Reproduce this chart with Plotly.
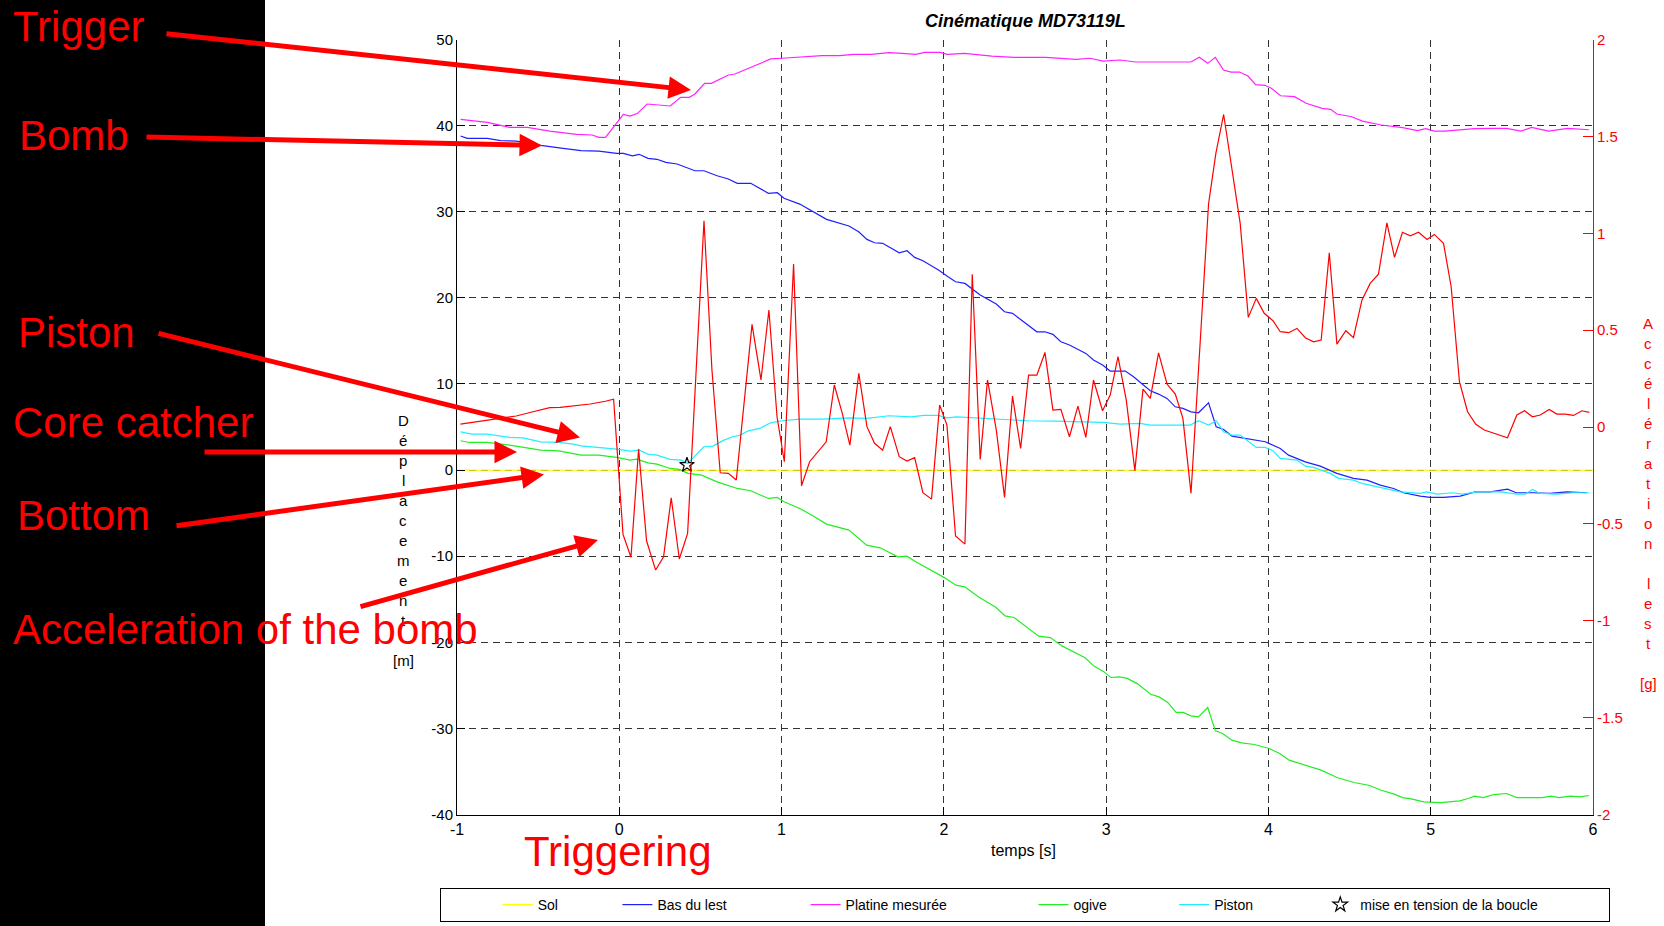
import plotly.graph_objects as go

W, H = 1664, 926
FONT = "Liberation Sans, Arial, Helvetica, sans-serif"

# ---------------- data ----------------
sol_t = [-1.0, 6.0]
sol_y = [0.0, 0.0]

lest_t = [-0.978, -0.937, -0.813, -0.731, -0.635, -0.484, -0.346, -0.236, -0.126, -0.016,
          0.025, 0.081, 0.122, 0.177, 0.232, 0.287, 0.356, 0.466, 0.521, 0.603,
          0.672, 0.727, 0.810, 0.919, 0.974, 1.015, 1.112, 1.195, 1.277, 1.415,
          1.475, 1.526, 1.573, 1.623, 1.725, 1.773, 1.820, 1.871, 1.967, 2.019,
          2.072, 2.130, 2.224, 2.323, 2.374, 2.423, 2.522, 2.573, 2.623, 2.672,
          2.721, 2.774, 2.875, 2.922, 2.978, 3.025, 3.118, 3.169, 3.272, 3.323,
          3.375, 3.426, 3.473, 3.523, 3.569, 3.631, 3.678, 3.724, 3.775, 3.888,
          3.980, 4.073, 4.124, 4.227, 4.319, 4.422, 4.524, 4.607, 4.689, 4.771,
          4.833, 4.935, 4.997, 5.079, 5.182, 5.274, 5.367, 5.473, 5.527, 5.634,
          5.736, 5.839, 5.962]
lest_y = [38.79, 38.52, 38.52, 38.25, 38.21, 37.71, 37.36, 37.09, 37.05, 36.78,
          36.78, 36.50, 36.67, 36.20, 36.09, 35.74, 35.54, 34.76, 34.76, 34.18,
          33.80, 33.30, 33.30, 32.14, 32.21, 31.56, 30.89, 30.00, 29.12, 28.34,
          27.68, 26.79, 26.40, 26.33, 25.24, 25.47, 24.70, 24.31, 23.23, 22.53,
          21.87, 21.68, 20.33, 19.28, 18.39, 18.20, 16.84, 16.06, 16.06, 15.76,
          14.90, 14.52, 13.55, 12.78, 12.20, 11.50, 11.50, 10.84, 9.21, 8.83,
          8.33, 7.35, 7.17, 6.77, 6.66, 7.82, 5.03, 4.72, 3.95, 3.56,
          3.29, 2.52, 1.74, 0.96, 0.46, -0.38, -0.96, -1.16, -1.74, -2.13,
          -2.63, -3.02, -3.17, -3.17, -3.02, -2.52, -2.52, -2.21, -2.63, -2.63,
          -2.71, -2.52, -2.63]

platine_t = [-0.978, -0.813, -0.676, -0.566, -0.428, -0.263, -0.167, -0.126, -0.085, 0.025,
             0.067, 0.113, 0.171, 0.259, 0.314, 0.378, 0.432, 0.466, 0.526, 0.568,
             0.672, 0.713, 0.810, 0.865, 0.933, 1.002, 1.139, 1.250, 1.359, 1.442,
             1.552, 1.662, 1.744, 1.827, 1.882, 1.978, 2.020, 2.129, 2.295, 2.432,
             2.625, 2.817, 2.900, 2.982, 3.087, 3.182, 3.522, 3.574, 3.626, 3.673,
             3.723, 3.770, 3.822, 3.874, 3.921, 3.978, 4.018, 4.075, 4.161, 4.232,
             4.331, 4.383, 4.422, 4.513, 4.579, 4.696, 4.827, 4.918, 4.970, 5.022,
             5.088, 5.179, 5.270, 5.388, 5.466, 5.558, 5.622, 5.727, 5.844, 5.975]
platine_y = [40.73, 40.38, 39.80, 39.80, 39.37, 38.99, 38.91, 38.64, 38.64, 41.31,
             41.11, 41.43, 42.51, 42.39, 42.28, 43.28, 43.28, 43.67, 44.91, 44.91,
             45.88, 45.99, 46.77, 47.15, 47.74, 47.82, 48.00, 48.12, 48.12, 48.28,
             48.28, 48.47, 48.40, 48.28, 48.51, 48.51, 48.28, 48.40, 48.08, 47.93,
             47.93, 47.70, 47.82, 47.50, 47.62, 47.39, 47.39, 47.93, 47.23, 47.93,
             46.46, 46.22, 46.22, 45.76, 44.75, 44.68, 44.33, 43.47, 43.36, 42.59,
             42.01, 41.89, 41.35, 41.03, 40.53, 40.07, 39.76, 39.41, 39.64, 39.37,
             39.37, 39.52, 39.64, 39.69, 39.69, 39.37, 39.80, 39.37, 39.69, 39.52]

ogive_t = [-0.978, -0.924, -0.813, -0.676, -0.484, -0.373, -0.236, -0.126, -0.016, 0.067,
           0.108, 0.177, 0.232, 0.314, 0.369, 0.424, 0.507, 0.603, 0.727, 0.810,
           0.919, 0.974, 1.015, 1.112, 1.195, 1.277, 1.415, 1.524, 1.607, 1.717,
           1.772, 1.827, 2.006, 2.074, 2.129, 2.212, 2.322, 2.377, 2.433, 2.584,
           2.656, 2.730, 2.870, 2.925, 2.985, 3.030, 3.080, 3.131, 3.196, 3.274,
           3.326, 3.378, 3.431, 3.475, 3.522, 3.569, 3.626, 3.673, 3.718, 3.775,
           3.835, 3.913, 4.004, 4.070, 4.128, 4.226, 4.279, 4.325, 4.422, 4.527,
           4.618, 4.696, 4.775, 4.827, 4.879, 4.957, 5.061, 5.179, 5.231, 5.270,
           5.323, 5.388, 5.466, 5.531, 5.688, 5.740, 5.792, 5.858, 5.923, 5.975]
ogive_y = [3.41, 3.21, 3.21, 2.90, 2.32, 2.24, 1.74, 1.74, 1.47, 1.16,
           1.28, 0.85, 0.70, 0.19, 0.08, -0.38, -0.58, -1.36, -2.13, -2.40,
           -3.29, -3.17, -3.68, -4.45, -5.34, -6.27, -6.97, -8.71, -9.02, -10.07,
           -9.99, -10.65, -12.51, -13.36, -13.55, -14.71, -15.95, -16.92, -17.11, -19.28,
           -19.45, -20.44, -21.78, -22.76, -23.40, -24.08, -24.01, -24.19, -24.85, -26.02,
           -26.33, -26.95, -28.14, -28.14, -28.54, -28.65, -27.56, -30.28, -30.58, -31.36,
           -31.67, -31.86, -32.32, -32.90, -33.68, -34.26, -34.65, -34.84, -35.69, -36.27,
           -36.59, -37.17, -37.63, -38.02, -38.18, -38.52, -38.60, -38.41, -38.13, -37.86,
           -38.02, -37.67, -37.55, -38.02, -38.02, -37.86, -38.02, -37.86, -37.94, -37.78]

piston_t = [-0.978, -0.910, -0.813, -0.676, -0.593, -0.484, -0.373, -0.282, -0.236, -0.158,
            -0.016, 0.067, 0.122, 0.177, 0.232, 0.314, 0.383, 0.419, 0.452, 0.521,
            0.576, 0.645, 0.699, 0.741, 0.796, 0.865, 0.933, 1.002, 1.112, 1.250,
            1.415, 1.524, 1.662, 1.800, 1.875, 1.967, 2.019, 2.081, 2.240, 2.377,
            2.515, 2.680, 2.845, 2.982, 3.087, 3.210, 3.272, 3.415, 3.518, 3.569,
            3.631, 3.678, 3.724, 3.775, 3.826, 3.925, 3.980, 4.028, 4.073, 4.176,
            4.227, 4.278, 4.329, 4.381, 4.432, 4.524, 4.576, 4.689, 4.812, 4.935,
            4.976, 5.040, 5.133, 5.195, 5.287, 5.430, 5.531, 5.582, 5.627, 5.675,
            5.777, 5.880, 5.977]
piston_y = [4.45, 4.18, 4.18, 3.80, 3.75, 3.29, 3.21, 3.02, 2.82, 2.71,
            2.44, 2.21, 2.32, 1.86, 1.74, 1.24, 1.16, 0.78, 1.36, 2.71,
            2.79, 3.48, 3.87, 4.03, 4.56, 4.84, 5.49, 5.73, 5.92, 5.92,
            6.07, 6.00, 6.31, 6.19, 6.35, 6.35, 6.07, 6.19, 6.00, 5.81,
            5.73, 5.69, 5.61, 5.54, 5.34, 5.42, 5.23, 5.23, 5.23, 5.73,
            5.23, 5.73, 4.45, 4.07, 4.07, 2.63, 2.63, 2.24, 1.36, 1.16,
            0.46, 0.31, 0.00, -0.38, -0.96, -1.16, -1.55, -2.01, -2.52, -2.71,
            -2.52, -2.79, -2.63, -2.79, -2.52, -2.52, -2.79, -2.79, -2.25, -2.71,
            -2.79, -2.63, -2.63]

tension_t = [0.417]
tension_y = [0.6]

acc_t = [-0.979, -0.80, -0.635, -0.55, -0.428, -0.364, -0.179, -0.086, -0.035, 0.023,
         0.072, 0.119, 0.168, 0.224, 0.273, 0.320, 0.370, 0.421, 0.522, 0.571,
         0.622, 0.672, 0.721, 0.818, 0.873, 0.922, 0.972, 1.017, 1.074, 1.123,
         1.173, 1.275, 1.325, 1.374, 1.421, 1.476, 1.526, 1.573, 1.623, 1.670,
         1.725, 1.773, 1.820, 1.871, 1.924, 1.974, 2.019, 2.072, 2.130, 2.175,
         2.224, 2.269, 2.323, 2.374, 2.423, 2.473, 2.522, 2.573, 2.623, 2.672,
         2.721, 2.774, 2.826, 2.875, 2.922, 2.978, 3.025, 3.073, 3.124, 3.177,
         3.227, 3.272, 3.323, 3.375, 3.426, 3.473, 3.523, 3.631, 3.676, 3.724,
         3.775, 3.826, 3.876, 3.925, 3.974, 4.028, 4.073, 4.124, 4.176, 4.227,
         4.278, 4.325, 4.375, 4.422, 4.477, 4.524, 4.576, 4.627, 4.678, 4.730,
         4.777, 4.826, 4.874, 4.925, 4.977, 5.022, 5.079, 5.126, 5.177, 5.227,
         5.278, 5.330, 5.473, 5.531, 5.578, 5.627, 5.675, 5.730, 5.777, 5.828,
         5.880, 5.932, 5.977]
acc_g = [0.015, 0.035, 0.057, 0.075, 0.100, 0.102, 0.119, 0.133, 0.144, -0.554,
         -0.672, -0.114, -0.587, -0.738, -0.669, -0.365, -0.681, -0.549, 1.065, 0.294,
         -0.236, -0.239, -0.273, 0.530, 0.243, 0.604, 0.053, -0.179, 0.841, -0.303,
         -0.179, -0.076, 0.217, 0.071, -0.093, 0.277, 0.002, -0.084, -0.119, 0.002,
         -0.153, -0.175, -0.158, -0.339, -0.372, 0.114, 0.010, -0.562, -0.604, 0.789,
         -0.167, 0.243, -0.015, -0.363, 0.160, -0.110, 0.268, 0.268, 0.385, 0.088,
         0.091, -0.050, 0.108, -0.053, 0.243, 0.084, 0.165, 0.363, 0.139, -0.225,
         0.196, 0.148, 0.383, 0.222, 0.170, 0.045, -0.342, 1.151, 1.412, 1.613,
         1.335, 1.051, 0.566, 0.664, 0.587, 0.549, 0.492, 0.487, 0.509, 0.461,
         0.440, 0.449, 0.899, 0.428, 0.497, 0.461, 0.655, 0.741, 0.789, 1.054,
         0.876, 1.005, 0.987, 1.005, 0.968, 0.994, 0.948, 0.724, 0.234, 0.079,
         0.014, -0.015, -0.055, 0.062, 0.084, 0.053, 0.062, 0.091, 0.067, 0.067,
         0.060, 0.084, 0.076]

x_ticks = [-1, 0, 1, 2, 3, 4, 5, 6]
y_ticks = [-40, -30, -20, -10, 0, 10, 20, 30, 40, 50]
y2_ticks = [-2, -1.5, -1, -0.5, 0, 0.5, 1, 1.5, 2]
y2_ticktext = ["-2", "-1.5", "-1", "-0.5", "0", "0.5", "1", "1.5", "2"]

series_names = ["Sol", "Bas du lest", "Platine mesurée", "ogive", "Piston",
                "mise en tension de la boucle"]
title_text = "Cinématique MD73119L"
xlabel_text = "temps [s]"
ylabel_chars = ["D", "é", "p", "l", "a", "c", "e", "m", "e", "n", "t", "", "[m]"]
y2label_chars = ["A", "c", "c", "é", "l", "é", "r", "a", "t", "i", "o", "n", "",
                 "l", "e", "s", "t", "", "[g]"]

callouts = ["Trigger", "Bomb", "Piston", "Core catcher", "Bottom",
            "Acceleration of the bomb", "Triggering"]

# ---------------- layout helpers ----------------
def px(x):
    return x / W

def py(y):
    return 1 - y / H

NB = "\u00a0"
legend_pad = [14, 19, 21, 16, 16, 17]          # spacing of the legend entries
legend_names = [n + NB * p for n, p in zip(series_names, legend_pad)]

PLOT_L, PLOT_R, PLOT_T, PLOT_B = 457, 1593, 39.5, 814.6
GRID = "#333333"
DASH = "7px,5px"
LW = 1.2

fig = go.Figure()

fig.add_trace(go.Scatter(x=sol_t, y=sol_y, mode="lines", name=legend_names[0],
                         line=dict(color="#FFFF00", width=LW)))
fig.add_trace(go.Scatter(x=lest_t, y=lest_y, mode="lines", name=legend_names[1],
                         line=dict(color="#1f1fff", width=LW)))
fig.add_trace(go.Scatter(x=platine_t, y=platine_y, mode="lines", name=legend_names[2],
                         line=dict(color="#ff22ff", width=LW)))
fig.add_trace(go.Scatter(x=ogive_t, y=ogive_y, mode="lines", name=legend_names[3],
                         line=dict(color="#22ee22", width=LW)))
fig.add_trace(go.Scatter(x=piston_t, y=piston_y, mode="lines", name=legend_names[4],
                         line=dict(color="#22eeff", width=LW)))
fig.add_trace(go.Scatter(x=tension_t, y=tension_y, mode="markers", name=legend_names[5],
                         marker=dict(symbol="star-open", size=11, color="black",
                                     line=dict(width=1.2, color="black"))))
fig.add_trace(go.Scatter(x=acc_t, y=acc_g, mode="lines", name="Accélération lest",
                         yaxis="y2", showlegend=False,
                         line=dict(color="#ff0000", width=LW)))

# ---------------- annotations ----------------
ann = []
ann.append(dict(text=f"<b><i>{title_text}</i></b>", x=px((PLOT_L + PLOT_R) / 2), y=py(21),
                xref="paper", yref="paper", showarrow=False, xanchor="center", yanchor="middle",
                font=dict(family=FONT, size=18, color="black")))
ann.append(dict(text=xlabel_text, x=px(1023), y=py(850), xref="paper", yref="paper",
                showarrow=False, xanchor="center", yanchor="middle",
                font=dict(family=FONT, size=16, color="black")))
for i, ch in enumerate(ylabel_chars):
    if ch:
        ann.append(dict(text=ch, x=px(403), y=py(420.7 + 20 * i), xref="paper", yref="paper",
                        showarrow=False, xanchor="center", yanchor="middle",
                        font=dict(family=FONT, size=15, color="black")))
for i, ch in enumerate(y2label_chars):
    if ch:
        ann.append(dict(text=ch, x=px(1648), y=py(323.3 + 20 * i), xref="paper", yref="paper",
                        showarrow=False, xanchor="center", yanchor="middle",
                        font=dict(family=FONT, size=15, color="red")))

label_pos = [(11, 26), (17, 136), (16, 332), (11, 422), (15, 515.5), (11, 629.5), (522, 851.5)]
for txt, (lx, ly) in zip(callouts, label_pos):
    ann.append(dict(text=txt, x=px(lx), y=py(ly), xref="paper", yref="paper",
                    showarrow=False, xanchor="left", yanchor="middle",
                    font=dict(family=FONT, size=42, color="red")))

# arrows: (tail_x, tail_y, tip_x, tip_y) in pixels
arrows = [(165, 33.5, 691, 90), (145, 137, 542, 145.5), (157, 333, 580, 437.5),
          (203, 452, 517, 452), (175, 526, 544, 474.5), (359, 607, 598, 540)]
for tx, ty, hx, hy in arrows:
    ann.append(dict(text="", x=px(hx), y=py(hy), xref="paper", yref="paper",
                    ax=tx - hx, ay=ty - hy, axref="pixel", ayref="pixel",
                    showarrow=True, arrowhead=2, arrowsize=0.9, arrowwidth=5,
                    arrowcolor="red", standoff=0, startstandoff=0))

fig.update_layout(
    width=W, height=H,
    margin=dict(l=0, r=0, t=0, b=0),
    paper_bgcolor="white", plot_bgcolor="white",
    font=dict(family=FONT, color="black"),
    shapes=[dict(type="rect", xref="paper", yref="paper", x0=0, x1=px(265), y0=0, y1=1,
                 fillcolor="black", line=dict(width=0), layer="below")],
    annotations=ann,
    xaxis=dict(domain=[px(PLOT_L), px(PLOT_R)], range=[-1, 6], tickmode="array",
               tickvals=x_ticks, ticktext=[str(v) for v in x_ticks],
               showgrid=True, gridcolor=GRID, griddash=DASH, gridwidth=1,
               zeroline=False, showline=True, linecolor="black", linewidth=1,
               ticks="inside", ticklen=8, tickcolor="black",
               tickfont=dict(family=FONT, size=16, color="black"), automargin=False),
    yaxis=dict(domain=[py(PLOT_B), py(PLOT_T)], range=[-40, 50], tickmode="array",
               tickvals=y_ticks, ticktext=[str(v) for v in y_ticks],
               showgrid=True, gridcolor=GRID, griddash=DASH, gridwidth=1,
               zeroline=False, showline=True, linecolor="black", linewidth=1,
               ticks="inside", ticklen=8, tickcolor="black",
               tickfont=dict(family=FONT, size=15, color="black"), automargin=False),
    yaxis2=dict(overlaying="y", side="right", anchor="x", range=[-2, 2], tickmode="array",
                tickvals=y2_ticks, ticktext=y2_ticktext, showgrid=False, zeroline=False,
                showline=True, linecolor="red", linewidth=1, ticks="inside", ticklen=10,
                tickcolor="red", tickfont=dict(family=FONT, size=15, color="red"),
                automargin=False),
    legend=dict(orientation="h", x=px(440), y=py(888), xanchor="left", yanchor="top",
                bordercolor="black", borderwidth=1, bgcolor="white",
                title=dict(text=NB * 12, side="left", font=dict(family=FONT, size=14)),
                font=dict(family=FONT, size=14, color="black"), traceorder="normal"),
)

fig.write_html("out.html")
